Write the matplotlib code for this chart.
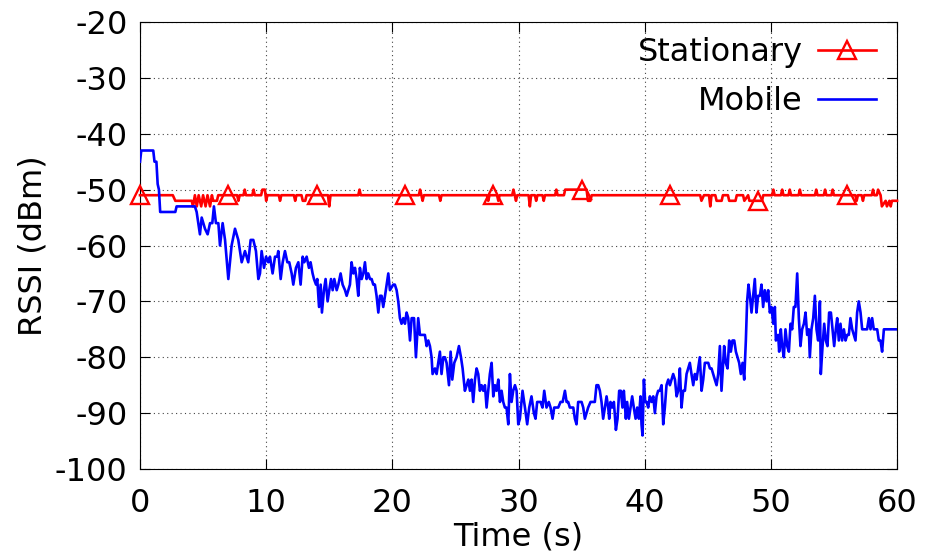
import numpy as np
import matplotlib
matplotlib.use("Agg")
import matplotlib.pyplot as plt

plt.rcParams['font.family'] = ['DejaVu Sans']
plt.rcParams['axes.unicode_minus'] = False

#%% RSSI traces (dBm) over time (s)

# stationary node: sits at -51 dBm with single-sample jitter
red_t = [0, 2.6, 2.8, 4.1, 4.2, 4.35, 4.5, 4.65, 4.85, 5.0,
         5.2, 5.35, 5.55, 5.7, 5.8, 6.1, 6.2, 7.0, 7.7, 7.8,
         7.9, 8.2, 8.3, 8.4, 8.9, 9.0, 9.1, 9.6, 9.7, 9.9,
         10.0, 10.1, 11.0, 11.1, 11.2, 12.2, 12.3, 12.4, 12.8, 12.9,
         13.1, 13.2, 14.0, 14.9, 15.0, 15.1, 17.3, 17.4, 17.5, 21.0,
         22.1, 22.2, 22.3, 22.4, 22.5, 23.7, 23.8, 23.9, 27.5, 27.6,
         27.7, 28.0, 28.3, 28.4, 28.5, 29.5, 29.6, 29.7, 29.8, 29.9,
         30.8, 30.9, 31.0, 31.3, 31.4, 31.5, 31.9, 32.0, 32.1, 32.9,
         33.0, 33.1, 33.6, 33.7, 35.0, 35.4, 35.5, 35.7, 35.8, 42.0,
         44.4, 44.5, 44.7, 45.1, 45.2, 45.3, 45.6, 45.7, 46.1, 46.2,
         46.6, 46.7, 47.2, 47.3, 47.8, 47.9, 48.2, 48.3, 49.0, 49.3,
         49.4, 50.1, 50.2, 50.3, 50.8, 50.9, 51.0, 51.4, 51.5, 51.6,
         52.2, 52.3, 52.4, 53.5, 53.6, 53.7, 54.2, 54.3, 54.4, 54.8,
         54.9, 55.0, 56.0, 56.7, 56.8, 56.9, 57.2, 57.3, 57.4, 58.0,
         58.1, 58.2, 58.4, 58.5, 58.7, 58.8, 59.1, 59.2, 59.4, 59.5,
         59.6, 60.0]
red_v = [-51, -51, -52, -52, -53, -51, -53, -51, -53, -51,
         -53, -51, -53, -51, -52, -52, -51, -51, -51, -52,
         -51, -51, -50, -51, -51, -50, -51, -51, -50, -50,
         -52, -51, -51, -52, -51, -51, -52, -51, -51, -52,
         -52, -51, -51, -51, -53, -51, -51, -50, -51, -51,
         -51, -50, -51, -52, -51, -51, -52, -51, -51, -52,
         -51, -51, -51, -52, -51, -51, -50, -51, -52, -51,
         -51, -53, -51, -51, -52, -51, -51, -52, -51, -51,
         -50, -51, -51, -50, -50, -50, -52, -52, -51, -51,
         -51, -52, -51, -51, -53, -51, -51, -52, -52, -51,
         -51, -52, -52, -51, -51, -52, -51, -52, -52, -52,
         -51, -51, -50, -51, -51, -50, -51, -51, -50, -51,
         -51, -50, -51, -51, -50, -51, -51, -50, -51, -51,
         -50, -51, -51, -51, -52, -51, -51, -52, -51, -51,
         -50, -51, -51, -50, -51, -53, -52, -53, -52, -53,
         -52, -52]
marker_times = [0, 7, 14, 21, 28, 35, 42, 49, 56]

# mobile node: walks away from the receiver and back
blue_t = [0.0, 0.1, 1.05, 1.15, 1.3, 1.4, 1.5, 1.6, 2.8, 2.9,
          4.35, 4.49, 4.75, 4.89, 5.15, 5.36, 5.55, 5.73, 5.86, 6.02,
          6.21, 6.34, 6.55, 6.74, 7.0, 7.26, 7.53, 7.79, 8.06, 8.32,
          8.58, 8.77, 8.98, 9.19, 9.38,
          9.51, 9.64, 9.83, 9.99, 10.17, 10.30, 10.51, 10.70, 10.88, 10.96,
          11.15, 11.31, 11.49, 11.68, 11.83, 12.02, 12.15, 12.36, 12.55, 12.73,
          12.89, 13.02, 13.21, 13.39, 13.52, 13.68, 13.79, 13.95, 14.05, 14.19,
          14.32, 14.42, 14.58, 14.71, 14.87, 15.00, 15.14, 15.27, 15.40, 15.59,
          15.72, 15.90, 16.06, 16.25, 16.38, 16.51, 16.64, 16.77, 16.91, 17.04,
          17.17, 17.30, 17.43, 17.57, 17.70, 17.83, 17.96, 18.09, 18.23, 18.36,
          18.49, 18.62, 18.75, 18.89, 19.02, 19.15, 19.28, 19.42, 19.55, 19.68,
          19.81, 20.07, 20.2, 20.34, 20.47, 20.6, 20.73, 20.87, 21.0, 21.13,
          21.26, 21.4, 21.53, 21.72, 21.87, 22.05, 22.19, 22.32, 22.58, 22.72,
          22.85, 22.98, 23.11, 23.19, 23.38, 23.51, 23.64, 23.77, 23.9, 24.04,
          24.17, 24.3, 24.49, 24.62, 24.75, 24.91, 25.09, 25.28, 25.44, 25.57,
          25.75, 25.89, 26.02, 26.15, 26.28, 26.41, 26.55, 26.68, 26.81, 26.94,
          27.07, 27.21, 27.34, 27.47, 27.6, 27.73, 27.87, 28.0, 28.13, 28.26,
          28.4, 28.53, 28.66, 28.79, 28.92, 29.05, 29.19, 29.32, 29.45, 29.58,
          29.72, 29.85, 29.98,
          30.11, 30.32, 30.51, 30.69, 30.85, 31.03, 31.22, 31.35, 31.48, 31.64,
          31.75, 31.9, 32.04, 32.22, 32.4, 32.54, 32.7, 32.83, 33.0, 33.15,
          33.33, 33.5, 33.68, 33.81, 33.94, 34.07, 34.2, 34.34, 34.47, 34.6,
          34.73, 34.87, 35.0, 35.13, 35.26, 35.39, 35.52, 35.71, 35.87, 36.05,
          36.18, 36.32, 36.45, 36.58, 36.71, 36.85, 36.98, 37.11, 37.19, 37.29,
          37.43, 37.56, 37.72, 37.85, 37.98, 38.11, 38.24, 38.35, 38.51, 38.61,
          38.75, 38.88, 39.01, 39.14, 39.28, 39.41, 39.54, 39.67, 39.75, 39.83,
          39.94, 40.04, 40.15, 40.28, 40.41, 40.55, 40.68, 40.81, 40.94, 41.07,
          41.2, 41.34, 41.47, 41.6, 41.73, 41.87, 42.0, 42.13, 42.26, 42.4,
          42.53, 42.66, 42.79, 42.92, 43.05, 43.19, 43.32, 43.45, 43.58, 43.71,
          43.85, 43.98, 44.11, 44.24, 44.37, 44.51, 44.64, 44.77, 44.9, 45.04,
          45.17, 45.3, 45.43, 45.56, 45.7, 45.83, 45.96, 46.09, 46.22, 46.3,
          46.43, 46.57, 46.7, 46.83, 46.96, 47.1, 47.23, 47.36, 47.49, 47.62,
          47.76, 47.89, 48.02, 48.12, 48.23, 48.34, 48.47, 48.6, 48.73, 48.86,
          48.99,
          49.13, 49.26, 49.39, 49.52, 49.66, 49.79, 49.92, 50.05, 50.19, 50.32,
          50.4, 50.58, 50.66, 50.79, 50.9, 51.03, 51.16, 51.3, 51.43, 51.56,
          51.69, 51.82, 51.95, 52.09, 52.22, 52.35, 52.48, 52.62, 52.75, 52.88,
          53.01, 53.09, 53.22, 53.36, 53.49, 53.62, 53.75, 53.89, 53.96, 54.1,
          54.23, 54.36, 54.49, 54.62, 54.76, 54.89, 55.02, 55.15, 55.26, 55.39,
          55.52, 55.65, 55.79, 55.92, 56.05, 56.18, 56.31, 56.45, 56.58, 56.71,
          56.84, 56.97, 57.11, 57.24, 57.37, 57.5, 57.63, 57.77, 57.9, 58.03,
          58.16, 58.3, 58.43, 58.56, 58.69, 58.82, 58.96, 60.0]
blue_v = [-45, -43, -43, -45, -45, -49, -50, -54, -54, -53,
          -53, -54, -58, -55, -57, -58, -56, -56, -53, -56,
          -56, -60, -56, -59, -66, -60, -57, -59, -63, -61,
          -63, -59, -59, -61, -66,
          -65, -61, -64, -62, -63, -62, -65, -62, -62, -61,
          -66, -63, -61, -63, -63, -65, -67, -64, -63, -67,
          -62, -63, -62, -64, -63, -65, -66, -67, -66, -71,
          -67, -72, -68, -66, -70, -68, -66, -68, -66, -68,
          -67, -65, -67, -68, -69, -68, -67, -63, -65, -64,
          -66, -69, -64, -66, -65, -63, -66, -65, -66, -66,
          -67, -67, -69, -72, -69, -69, -71, -69, -67, -65,
          -68, -67, -67, -68, -70, -73, -74, -73, -74, -72,
          -73, -77, -73, -73, -80, -73, -76, -76, -76, -78,
          -77, -78, -80, -83, -82, -83, -81, -79, -83, -80,
          -80, -81, -85, -79, -84, -81, -80, -78, -80, -82,
          -86, -85, -84, -86, -84, -88, -84, -82, -83, -86,
          -85, -86, -85, -89, -86, -83, -81, -87, -85, -86,
          -84, -88, -86, -88, -89, -89, -92, -83, -88, -86,
          -85, -86, -92,
          -91, -86, -89, -92, -89, -87, -90, -91, -88, -88,
          -88, -89, -86, -89, -88, -89, -91, -89, -89, -89,
          -88, -88, -86, -88, -88, -89, -89, -89, -91, -92,
          -88, -88, -88, -89, -91, -90, -89, -88, -88, -88,
          -85, -85, -86, -88, -91, -89, -87, -89, -91, -88,
          -89, -88, -93, -91, -86, -86, -89, -86, -91, -88,
          -91, -89, -87, -89, -91, -89, -91, -87, -92, -94,
          -84, -88, -88, -89, -87, -88, -87, -90, -87, -86,
          -86, -85, -92, -89, -85, -84, -85, -84, -83, -84,
          -87, -86, -82, -89, -86, -86, -83, -82, -81, -83,
          -85, -83, -84, -82, -80, -86, -84, -81, -81, -81,
          -82, -82, -83, -84, -85, -83, -78, -86, -81, -78,
          -81, -82, -77, -79, -77, -77, -79, -80, -81, -83,
          -81, -84, -77, -70, -67, -69, -72, -69, -66, -72,
          -69,
          -69, -67, -71, -68, -70, -68, -72, -71, -74, -71,
          -77, -76, -79, -75, -78, -80, -75, -78, -79, -74,
          -75, -71, -71, -65, -73, -78, -75, -74, -72, -76,
          -75, -80, -75, -73, -69, -75, -77, -70, -83, -78,
          -74, -77, -78, -72, -72, -75, -78, -75, -73, -77,
          -74, -77, -75, -77, -76, -76, -73, -75, -76, -77,
          -72, -70, -72, -75, -75, -75, -75, -73, -75, -73,
          -75, -75, -75, -77, -77, -79, -75, -75]

assert len(red_t) == len(red_v)
assert len(blue_t) == len(blue_v)

x_ticks = [0, 10, 20, 30, 40, 50, 60]
y_ticks = [-100, -90, -80, -70, -60, -50, -40, -30, -20]

#%% Plot

fig = plt.figure(figsize=(9.27, 5.54), dpi=100)
ax = fig.add_axes([140 / 927, 85 / 554, 757 / 927, 447 / 554])

mark_idx = [i for i, t in enumerate(red_t) if t in marker_times]
ax.plot(red_t, red_v, color='#ff0000', lw=1.9, marker='^', markevery=mark_idx,
        markersize=12.5, markerfacecolor='none', markeredgecolor='#ff0000',
        markeredgewidth=1.7, label='Stationary', clip_on=False, zorder=3)
ax.plot(blue_t, blue_v, color='#0000ff', lw=1.9, label='Mobile', zorder=4)

ax.set_xlim(0, 60)
ax.set_ylim(-100, -20)
ax.set_xticks(x_ticks)
ax.set_yticks(y_ticks)
ax.tick_params(direction='in', length=7, width=0.8, labelsize=23,
               top=True, right=True)
ax.tick_params(axis='x', pad=14)
ax.tick_params(axis='y', pad=9)
ax.grid(True, color='#444444', lw=0.8, linestyle=(0, (1, 3)))
for s in ax.spines.values():
    s.set_linewidth(0.8)

ax.set_xlabel('Time (s)', fontsize=23, labelpad=1.5)
ax.set_ylabel('RSSI (dBm)', fontsize=23, labelpad=4.5)

ax.legend(loc='upper right', bbox_to_anchor=(876 / 927, 1 - 37 / 554),
          bbox_transform=fig.transFigure, frameon=False, fontsize=23,
          markerfirst=False, handlelength=1.82, handletextpad=0.47,
          labelspacing=0.56, borderpad=0, borderaxespad=0)

fig.savefig('out.png', dpi=100)
